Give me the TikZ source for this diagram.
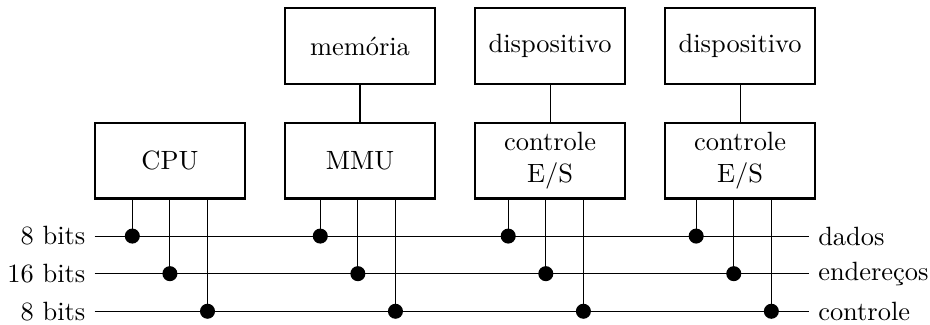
\documentclass[tikz,border=0pt]{standalone}
\usetikzlibrary{positioning}

\tikzset{
  bloco/.style={draw, thick, minimum width=2cm, minimum height=1cm, align=center, inner sep=2pt},
  barra/.style={line width=0.4pt},
}

\begin{document}
\begin{tikzpicture}
        \useasboundingbox (-1.26,-1.18) rectangle (11.11,3.14);

        % Barramentos (dados, enderecos, controle)
        \coordinate (D0) at (0,0);    \coordinate (D1) at (9.5,0);
        \coordinate (E0) at (0,-0.5); \coordinate (E1) at (9.5,-0.5);
        \coordinate (C0) at (0,-1);   \coordinate (C1) at (9.5,-1);
        \draw[barra] (D0) node[left] {8 bits} -- (D1) node[right] {dados};
        \draw[barra] (E0) node[left] {16 bits} -- (E1) node[right] {endereços};
        \draw[barra] (C0) node[left] {8 bits} -- (C1) node[right] {controle};

        % Blocos ligados ao barramento
        \node[bloco] (cpu) at (1,1) {CPU};
        \node[bloco, right=0.5cm of cpu] (mmu) {MMU};
        \node[bloco, right=0.5cm of mmu] (es1) {controle\\E/S};
        \node[bloco, right=0.5cm of es1] (es2) {controle\\E/S};

        % Blocos de cima
        \node[bloco, above=0.5cm of mmu] (mem) {memória};
        \node[bloco, above=0.5cm of es1] (disp1) {dispositivo};
        \node[bloco, above=0.5cm of es2] (disp2) {dispositivo};
        \draw[barra] (mem) -- (mmu);
        \draw[barra] (disp1) -- (es1);
        \draw[barra] (disp2) -- (es2);

        % Pontos de ligacao: CPU
        \coordinate (cpuD) at (0.5,0);
        \coordinate (cpuE) at (1,-0.5);
        \coordinate (cpuC) at (1.5,-1);
        % MMU
        \coordinate (mmuD) at (3,0);
        \coordinate (mmuE) at (3.5,-0.5);
        \coordinate (mmuC) at (4,-1);
        % controle E/S (1)
        \coordinate (es1D) at (5.5,0);
        \coordinate (es1E) at (6,-0.5);
        \coordinate (es1C) at (6.5,-1);
        % controle E/S (2)
        \coordinate (es2D) at (8,0);
        \coordinate (es2E) at (8.5,-0.5);
        \coordinate (es2C) at (9,-1);

        % Ligacoes verticais
        \draw[barra] (cpu.south -| cpuD) -- (cpuD);
        \draw[barra] (cpu.south -| cpuE) -- (cpuE);
        \draw[barra] (cpu.south -| cpuC) -- (cpuC);
        \draw[barra] (mmu.south -| mmuD) -- (mmuD);
        \draw[barra] (mmu.south -| mmuE) -- (mmuE);
        \draw[barra] (mmu.south -| mmuC) -- (mmuC);
        \draw[barra] (es1.south -| es1D) -- (es1D);
        \draw[barra] (es1.south -| es1E) -- (es1E);
        \draw[barra] (es1.south -| es1C) -- (es1C);
        \draw[barra] (es2.south -| es2D) -- (es2D);
        \draw[barra] (es2.south -| es2E) -- (es2E);
        \draw[barra] (es2.south -| es2C) -- (es2C);

        % Pontos
        \fill (cpuD) circle (0.1); \fill (cpuE) circle (0.1); \fill (cpuC) circle (0.1);
        \fill (mmuD) circle (0.1); \fill (mmuE) circle (0.1); \fill (mmuC) circle (0.1);
        \fill (es1D) circle (0.1); \fill (es1E) circle (0.1); \fill (es1C) circle (0.1);
        \fill (es2D) circle (0.1); \fill (es2E) circle (0.1); \fill (es2C) circle (0.1);

    \end{tikzpicture}
\end{document}
